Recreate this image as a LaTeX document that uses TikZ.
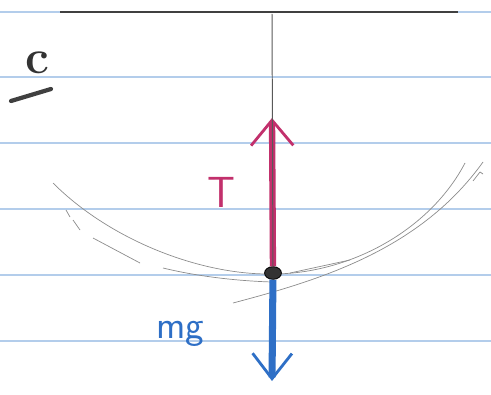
\documentclass[tikz,border=0pt]{standalone}
\usepackage{tikz}
\usetikzlibrary{arrows.meta,shapes.geometric}
\definecolor{rulecol}{HTML}{B3CDEB}
\definecolor{pencil}{HTML}{8C8C8C}
\definecolor{tcol}{HTML}{C2306C}
\definecolor{wcol}{HTML}{2E6FC6}

\begin{document}
\begin{tikzpicture}[x=0.025cm,y=-0.025cm,semithick]
  \tikzstyle{ruling}=[draw=rulecol,line width=0.8pt]
  \tikzstyle{ceilbar}=[draw=black!75,line width=1.4pt]
  \tikzstyle{cord}=[draw=black!65,line width=0.7pt]
  \tikzstyle{pencilarc}=[draw=pencil,line width=0.5pt]
  \tikzstyle{bob}=[ellipse,
                                    fill=black!80,
                                    draw=black,
                                    minimum width=12pt,
                                    minimum height=9pt,
                                    inner sep=0pt]
  \tikzstyle{tforce}=[draw=tcol,line width=4.5pt,
                                    -{Straight Barb[length=18pt,width=30pt,line width=2pt]}]
  \tikzstyle{wforce}=[draw=wcol,line width=5pt,
                                    -{Straight Barb[length=18pt,width=28pt,line width=2pt]}]
  \tikzstyle{tlabel}=[text=tcol,font=\sffamily\fontsize{31}{31}\selectfont,
                                    inner sep=0pt,anchor=base west]
  \tikzstyle{wlabel}=[text=wcol,font=\sffamily\fontsize{28}{28}\selectfont,
                                    inner sep=0pt,anchor=base west]
  \tikzstyle{cmark}=[text=black!80,font=\bfseries\fontsize{34}{34}\selectfont,
                                    inner sep=0pt,anchor=base west]
  \useasboundingbox (0,0) rectangle (491,394);
  %Lineas
  \foreach \y in {12,77,143,209,275,341}
    \draw[ruling] (0,\y) -- (491,\y);
  \draw[ceilbar] (60,12) -- (458,12);
  %Arcos
  \draw[pencilarc] (53,183) .. controls (110,240) and (200,275) .. (272,274)
             .. controls (350,274) and (430,230) .. (465,163);
  \draw[pencilarc] (93,238) -- (140,263);
  \draw[pencilarc] (163,268) .. controls (200,277) and (240,281) .. (272,282);
  \draw[pencilarc] (233,303) .. controls (320,280) and (420,250) .. (483,162);
  \draw[pencilarc] (473,181) -- (480,172) -- (483,174);
  \draw[pencilarc] (290,273) -- (350,260);
  \draw[pencilarc] (66,210) -- (70,217);
  \draw[pencilarc] (73,220) -- (80,230);
  %Nodos
  \coordinate (pivot) at (272,14);
  \coordinate (ttip) at (272,118);
  \coordinate (wtip) at (272,381);
  \node[bob] (bob) at (273,273) {};
  \node[tlabel] (tl) at (207,207) {T};
  \node[wlabel] (wl) at (156,338) {mg};
  \node[cmark] (c) at (25,73) {c};
  \coordinate (dash1) at (11,101);
  \coordinate (dash2) at (51,89);
  %Flechas
  \draw[tforce] (bob) -- (ttip);
  \draw[wforce] (bob) -- (wtip);
  \draw[cord] (pivot) -- (bob);
  \draw[black!75,line width=3pt,line cap=round] (dash1) -- (dash2);
\end{tikzpicture}
\end{document}
